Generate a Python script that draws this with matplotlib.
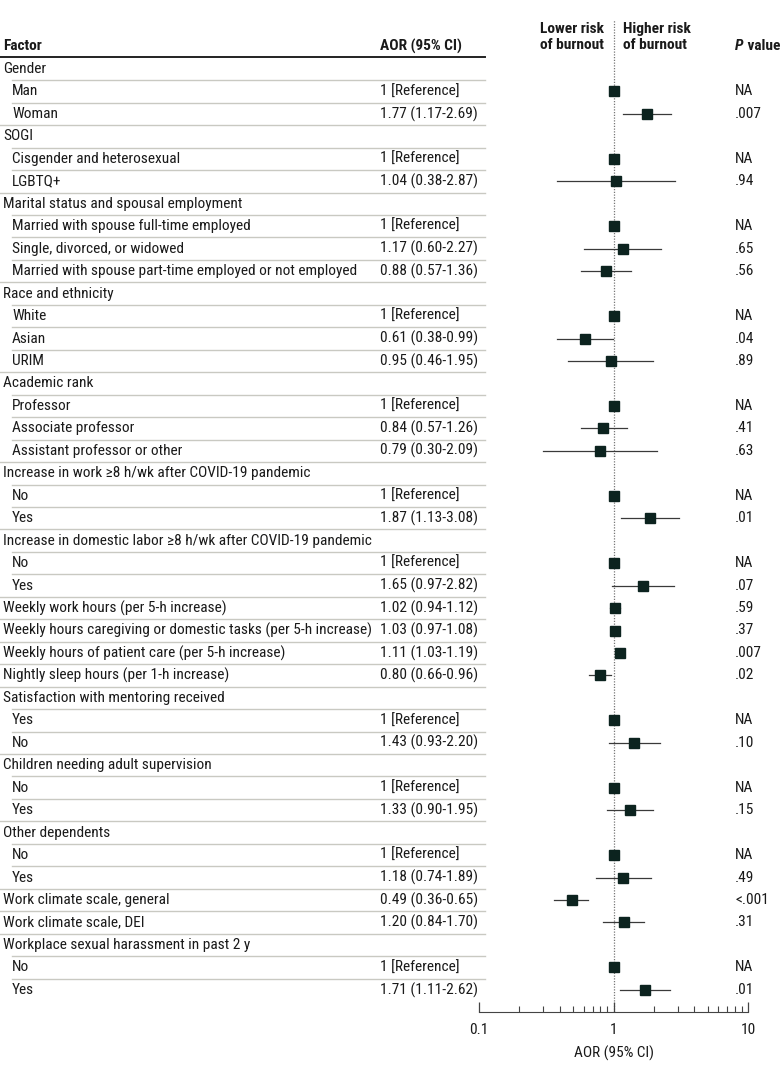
import matplotlib
matplotlib.use('Agg')
import matplotlib.pyplot as plt
from matplotlib import font_manager
from matplotlib.transforms import blended_transform_factory, offset_copy

names = set(f.name for f in font_manager.fontManager.ttflist)
cands = [n for n in ['Liberation Sans Narrow', 'Roboto Condensed', 'DejaVu Sans Condensed', 'Roboto']
         if n in names]
plt.rcParams['font.family'] = cands[:1] + ['DejaVu Sans']

# rows of the table
labels = ['Gender', 'Man', 'Woman',
          'SOGI', 'Cisgender and heterosexual', 'LGBTQ+',
          'Marital status and spousal employment', 'Married with spouse full-time employed',
          'Single, divorced, or widowed', 'Married with spouse part-time employed or not employed',
          'Race and ethnicity', 'White', 'Asian', 'URIM',
          'Academic rank', 'Professor', 'Associate professor', 'Assistant professor or other',
          'Increase in work \u22658 h/wk after COVID-19 pandemic', 'No', 'Yes',
          'Increase in domestic labor \u22658 h/wk after COVID-19 pandemic', 'No', 'Yes',
          'Weekly work hours (per 5-h increase)',
          'Weekly hours caregiving or domestic tasks (per 5-h increase)',
          'Weekly hours of patient care (per 5-h increase)',
          'Nightly sleep hours (per 1-h increase)',
          'Satisfaction with mentoring received', 'Yes', 'No',
          'Children needing adult supervision', 'No', 'Yes',
          'Other dependents', 'No', 'Yes',
          'Work climate scale, general', 'Work climate scale, DEI',
          'Workplace sexual harassment in past 2 y', 'No', 'Yes']
indent = [0, 1, 1, 0, 1, 1, 0, 1, 1, 1, 0, 1, 1, 1, 0, 1, 1, 1, 0, 1, 1, 0, 1, 1,
          0, 0, 0, 0, 0, 1, 1, 0, 1, 1, 0, 1, 1, 0, 0, 0, 1, 1]
N = None
aor = [N, 1, 1.77, N, 1, 1.04, N, 1, 1.17, 0.88, N, 1, 0.61, 0.95, N, 1, 0.84, 0.79,
       N, 1, 1.87, N, 1, 1.65, 1.02, 1.03, 1.11, 0.80, N, 1, 1.43, N, 1, 1.33,
       N, 1, 1.18, 0.49, 1.20, N, 1, 1.71]
lo = [N, N, 1.17, N, N, 0.38, N, N, 0.60, 0.57, N, N, 0.38, 0.46, N, N, 0.57, 0.30,
      N, N, 1.13, N, N, 0.97, 0.94, 0.97, 1.03, 0.66, N, N, 0.93, N, N, 0.90,
      N, N, 0.74, 0.36, 0.84, N, N, 1.11]
hi = [N, N, 2.69, N, N, 2.87, N, N, 2.27, 1.36, N, N, 0.99, 1.95, N, N, 1.26, 2.09,
      N, N, 3.08, N, N, 2.82, 1.12, 1.08, 1.19, 0.96, N, N, 2.20, N, N, 1.95,
      N, N, 1.89, 0.65, 1.70, N, N, 2.62]
pvals = ['', 'NA', '.007', '', 'NA', '.94', '', 'NA', '.65', '.56', '', 'NA', '.04', '.89',
         '', 'NA', '.41', '.63', '', 'NA', '.01', '', 'NA', '.07', '.59', '.37', '.007', '.02',
         '', 'NA', '.10', '', 'NA', '.15', '', 'NA', '.49', '<.001', '.31', '', 'NA', '.01']

W, H = 780, 1079
fig = plt.figure(figsize=(W / 100, H / 100), dpi=100)
row_h = 22.46
top_px, bot_px = 20, 1012
ax = fig.add_axes([479 / W, 1 - bot_px / H, (748 - 479) / W, (bot_px - top_px) / H])
ax.set_xscale('log')
ax.set_xlim(0.1, 10)
ax.set_ylim((bot_px - 69) / row_h, (top_px - 69) / row_h)

tr = blended_transform_factory(fig.transFigure, ax.transData)
txt = '#1a1a1a'
rend = fig.canvas.get_renderer()

# fit font size so the longest label spans ~343 px like the reference
probe = fig.text(0, 0, labels[9], fontsize=10)
w = probe.get_window_extent(renderer=rend).width
probe.remove()
fs = 10 * 343 / w

# column headers
ax.text(3 / W, -1.02, 'Factor', transform=tr, fontsize=fs, fontweight='bold', color=txt,
        va='center', ha='left', clip_on=False)
ax.text(380 / W, -1.02, 'AOR (95% CI)', transform=tr, fontsize=fs, fontweight='bold', color=txt,
        va='center', ha='left', clip_on=False)
pt = ax.text(735 / W, -1.02, 'P', transform=tr, fontsize=fs, fontweight='bold', style='italic',
             color=txt, va='center', ha='left', clip_on=False)
pw = pt.get_window_extent(renderer=rend).width
ax.text(735 / W, -1.02, ' value', transform=offset_copy(tr, fig=fig, x=pw, units='dots'),
        fontsize=fs, fontweight='bold', color=txt, va='center', ha='left', clip_on=False)
ax.text(604 / W, -1.42, 'Lower risk\nof burnout', transform=tr, fontsize=fs, fontweight='bold',
        color=txt, va='center', ha='right', clip_on=False, linespacing=1.15)
ax.text(623 / W, -1.42, 'Higher risk\nof burnout', transform=tr, fontsize=fs, fontweight='bold',
        color=txt, va='center', ha='left', clip_on=False, linespacing=1.15)
ax.plot([0, 485 / W], [-0.53, -0.53], transform=tr, color='#222222', lw=1.4, clip_on=False)

for i, lab in enumerate(labels):
    x0 = 12 / W if indent[i] else 3 / W
    ax.text(x0, i, lab, transform=tr, fontsize=fs, color=txt, va='center', ha='left', clip_on=False)
    if aor[i] is not None:
        if lo[i] is None:
            s = '1 [Reference]'
        else:
            s = f'{aor[i]:.2f} ({lo[i]:.2f}-{hi[i]:.2f})'
        ax.text(380 / W, i, s, transform=tr, fontsize=fs, color=txt, va='center', ha='left',
                clip_on=False)
        ax.text(735 / W, i, pvals[i], transform=tr, fontsize=fs, color=txt, va='center',
                ha='left', clip_on=False)
        if lo[i] is not None:
            ax.plot([lo[i], hi[i]], [i, i], color='#3a3a3a', lw=0.9, zorder=3)
        ax.plot(aor[i], i, marker='s', ms=6.8, color='#0c231f', zorder=4)
    if i > 0:
        xs = 12 / W if indent[i] else 0
        ax.plot([xs, 485 / W], [i - 0.5, i - 0.5], transform=tr, color='#c9c9c2', lw=1.0,
                clip_on=False)

ax.axvline(1, color='#777777', lw=0.9, ls=(0, (1, 1.2)), zorder=1)

for sp in ['top', 'right', 'left']:
    ax.spines[sp].set_visible(False)
ax.spines['bottom'].set_color('#444444')
ax.set_yticks([])
ax.patch.set_alpha(0)
ax.set_xticks([0.1, 1, 10])
ax.set_xticklabels(['0.1', '1', '10'])
ax.tick_params(axis='x', which='major', direction='in', length=7, width=0.9, colors='#444444',
               labelcolor=txt, labelsize=fs, pad=8)
ax.tick_params(axis='x', which='minor', direction='in', length=4, width=0.8, colors='#444444')
ax.set_xlabel('AOR (95% CI)', fontsize=fs, color=txt, labelpad=6)

fig.savefig('out.png', dpi=100)
